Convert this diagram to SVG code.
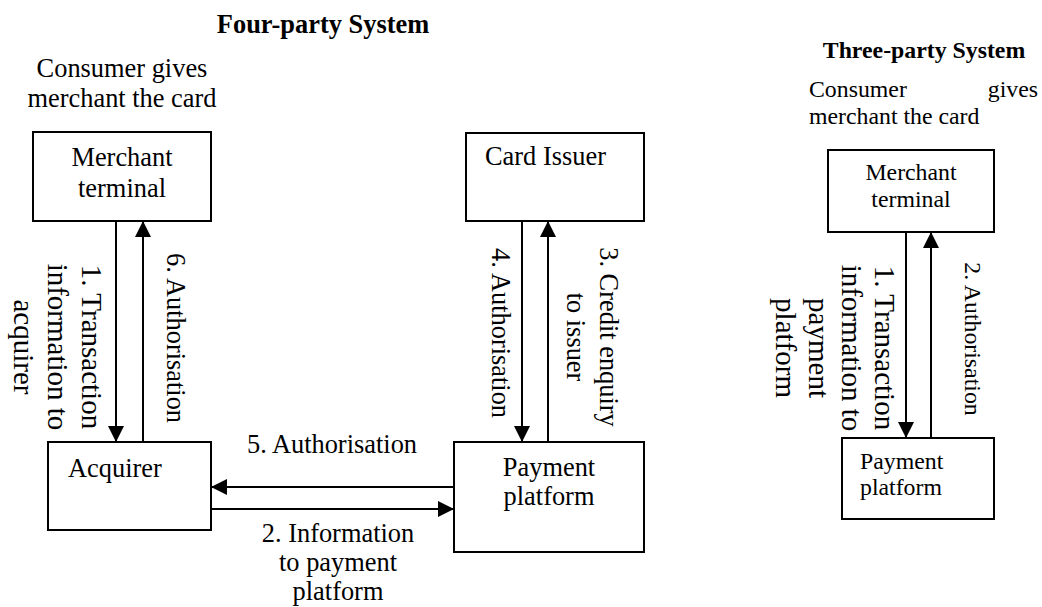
<svg xmlns="http://www.w3.org/2000/svg" width="1042" height="607" viewBox="0 0 1042 607">
  <style>
    .box { fill: #ffffff; stroke: #000000; stroke-width: 2; }
    .link { fill: none; stroke: #000000; stroke-width: 2; marker-end: url(#arrow); }
    .t4 { font-family: "Liberation Serif", "Times New Roman", serif; font-size: 26.4px; fill: #000000; }
    .t3 { font-family: "Liberation Serif", "Times New Roman", serif; font-size: 23.8px; fill: #000000; }
    .big { font-size: 29px; }
    .mid { text-anchor: middle; }
    .bold { font-weight: bold; }
  </style>
  <defs>
    <marker id="arrow" markerUnits="userSpaceOnUse" markerWidth="16" markerHeight="16" refX="16" refY="8" orient="auto">
      <path d="M0,0 L16,8 L0,16 Z" fill="#000000"/>
    </marker>
  </defs>

  <rect width="1042" height="607" fill="#ffffff"/>

  <!-- Four-party system -->
  <text class="t4 bold mid" x="323" y="33">Four-party System</text>
  <text class="t4 mid" x="122" y="77">Consumer gives</text>
  <text class="t4 mid" x="122" y="107">merchant the card</text>

  <g id="merchant4">
    <rect class="box" x="33" y="132" width="178" height="89"/>
    <text class="t4 mid" x="122" y="166">Merchant</text>
    <text class="t4 mid" x="122" y="197">terminal</text>
  </g>

  <g id="issuer4">
    <rect class="box" x="466" y="133" width="178" height="88"/>
    <text class="t4" x="485" y="165">Card Issuer</text>
  </g>

  <g id="acquirer4">
    <rect class="box" x="48" y="442" width="163" height="88"/>
    <text class="t4" x="68" y="477">Acquirer</text>
  </g>

  <g id="platform4">
    <rect class="box" x="454" y="442" width="190" height="110"/>
    <text class="t4 mid" x="549" y="476">Payment</text>
    <text class="t4 mid" x="549" y="505">platform</text>
  </g>

  <!-- Three-party system -->
  <text class="t3 bold mid" x="924" y="58">Three-party System</text>
  <text class="t3" x="809" y="97">Consumer</text>
  <text class="t3" x="1038" y="97" text-anchor="end">gives</text>
  <text class="t3" x="809" y="124">merchant the card</text>

  <g id="merchant3">
    <rect class="box" x="828" y="150" width="166" height="82"/>
    <text class="t3 mid" x="911" y="180">Merchant</text>
    <text class="t3 mid" x="911" y="207">terminal</text>
  </g>

  <g id="platform3">
    <rect class="box" x="842" y="438" width="152" height="81"/>
    <text class="t3" x="860" y="469">Payment</text>
    <text class="t3" x="860" y="495">platform</text>
  </g>

  <!-- Connectors -->
  <g id="connectors">
    <line class="link" x1="116" y1="221" x2="116" y2="442"/>
    <line class="link" x1="143" y1="442" x2="143" y2="221"/>
    <line class="link" x1="522" y1="221" x2="522" y2="442"/>
    <line class="link" x1="548" y1="442" x2="548" y2="221"/>
    <line class="link" x1="454" y1="487" x2="211" y2="487"/>
    <line class="link" x1="211" y1="509" x2="454" y2="509"/>
    <line class="link" x1="906" y1="232" x2="906" y2="438"/>
    <line class="link" x1="931" y1="438" x2="931" y2="232"/>
  </g>

  <!-- Connector labels -->
  <g id="labels">
    <g transform="translate(0,347) rotate(90)">
      <text class="t4 big mid" x="0" y="-82">1. Transaction</text>
      <text class="t4 big mid" x="0" y="-48">information to</text>
      <text class="t4 big mid" x="0" y="-14">acquirer</text>
    </g>
    <g transform="translate(0,338) rotate(90)">
      <text class="t4 mid" x="0" y="-167">6. Authorisation</text>
    </g>
    <g transform="translate(0,333) rotate(90)">
      <text class="t4 mid" x="0" y="-492">4. Authorisation</text>
    </g>
    <g transform="translate(0,337) rotate(90)">
      <text class="t4 mid" x="0" y="-600">3. Credit enquiry</text>
      <text class="t4 mid" x="0" y="-567">to issuer</text>
    </g>
    <text class="t4 mid" x="332" y="453">5. Authorisation</text>
    <text class="t4 mid" x="338" y="542">2. Information</text>
    <text class="t4 mid" x="338" y="571">to payment</text>
    <text class="t4 mid" x="338" y="600">platform</text>

    <g transform="translate(0,348) rotate(90)">
      <text class="t3 big mid" x="0" y="-875">1. Transaction</text>
      <text class="t3 big mid" x="0" y="-842">information to</text>
      <text class="t3 big mid" x="0" y="-809">payment</text>
      <text class="t3 big mid" x="0" y="-776">platform</text>
    </g>
    <g transform="translate(0,339) rotate(90)">
      <text class="t3 mid" x="0" y="-965">2. Authorisation</text>
    </g>
  </g>
</svg>
